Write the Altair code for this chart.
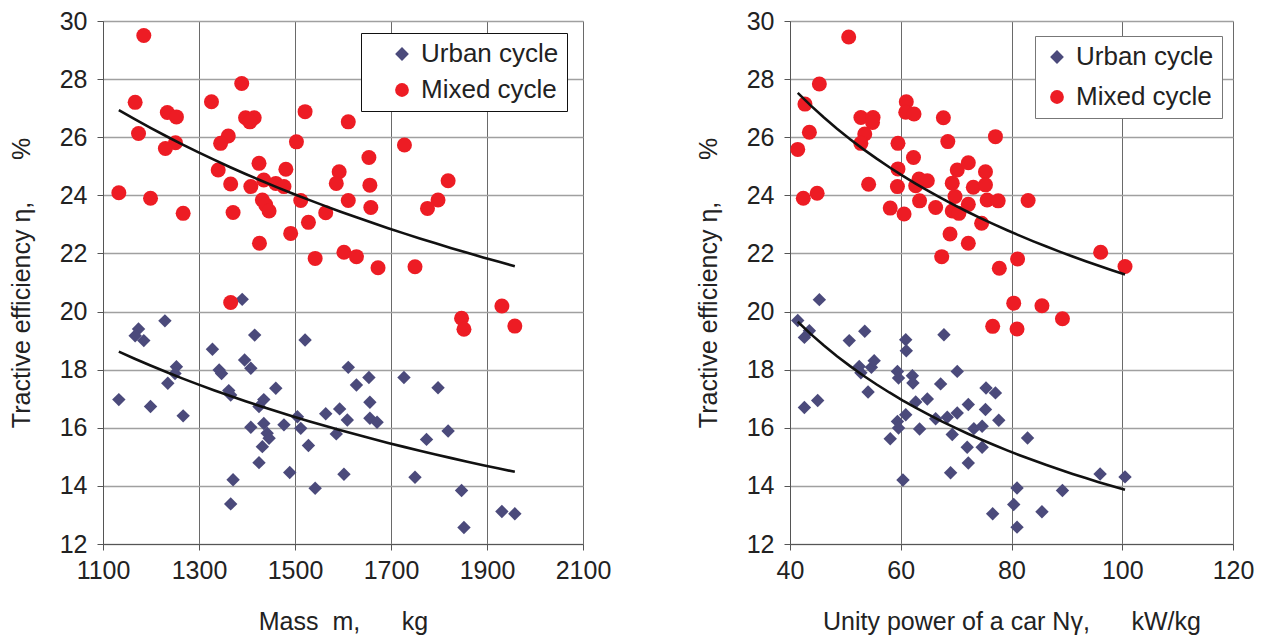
import altair as alt
import pandas as pd

# ---------------- data ----------------
# Left panel: mass m, kg  vs tractive efficiency, %
mass_urban = [1390, 1229, 1174, 1167, 1185, 1416, 1521, 1328, 1395, 1408, 1342, 1347,
              1253, 1250, 1235, 1362, 1366, 1133, 1199, 1267, 1460, 1435, 1425, 1611,
              1628, 1564, 1593, 1609, 1505, 1477, 1512, 1408, 1435, 1442, 1446, 1432,
              1586, 1528, 1425, 1371, 1489, 1602, 1542, 1366, 1654, 1727, 1798, 1656,
              1656, 1671, 1819, 1774, 1750, 1847, 1931, 1958, 1852]
eta_urban_m = [20.42, 19.68, 19.40, 19.17, 19.00, 19.19, 19.02, 18.70, 18.33, 18.05, 17.99, 17.87,
               18.10, 17.87, 17.53, 17.28, 17.13, 16.97, 16.73, 16.41, 17.36, 16.97, 16.73, 18.08,
               17.47, 16.48, 16.65, 16.27, 16.38, 16.10, 15.98, 16.02, 16.15, 15.81, 15.64, 15.35,
               15.79, 15.39, 14.80, 14.21, 14.46, 14.40, 13.92, 13.38, 17.73, 17.73, 17.38, 16.88,
               16.33, 16.19, 15.89, 15.60, 14.30, 13.84, 13.12, 13.04, 12.57]

mass_mixed = [1185, 1167, 1234, 1253, 1174, 1326, 1389, 1397, 1415, 1406, 1361, 1345,
              1251, 1230, 1521, 1611, 1503, 1425, 1340, 1481, 1366, 1408, 1435, 1460,
              1477, 1592, 1586, 1133, 1199, 1267, 1371, 1432, 1439, 1446, 1512, 1564,
              1611, 1528, 1491, 1426, 1542, 1602, 1628, 1728, 1654, 1656, 1658, 1819,
              1798, 1776, 1673, 1750, 1931, 1847, 1852, 1958, 1366]
eta_mixed_m = [29.50, 27.20, 26.85, 26.70, 26.13, 27.22, 27.85, 26.67, 26.67, 26.53, 26.04, 25.79,
               25.81, 25.61, 26.88, 26.53, 25.84, 25.10, 24.87, 24.90, 24.39, 24.30, 24.53, 24.41,
               24.30, 24.81, 24.41, 24.09, 23.90, 23.38, 23.41, 23.84, 23.67, 23.46, 23.82, 23.40,
               23.82, 23.07, 22.69, 22.35, 21.83, 22.04, 21.89, 25.73, 25.30, 24.35, 23.58, 24.50,
               23.84, 23.55, 21.51, 21.54, 20.19, 19.77, 19.39, 19.50, 20.31]

# Right panel: unity power N, kW/kg vs tractive efficiency, %
power_urban = [45.3, 41.4, 43.5, 42.6, 42.6, 45.0, 50.7, 53.5, 52.5, 52.8, 54.7, 55.2,
               54.1, 60.9, 61.0, 59.4, 59.6, 62.1, 62.2, 67.8, 67.2, 70.2, 64.8, 62.7,
               60.9, 59.4, 59.6, 58.1, 63.4, 66.3, 68.4, 70.2, 69.3, 72.2, 72.0, 72.2,
               69.0, 73.2, 74.7, 74.7, 75.3, 75.4, 77.1, 77.7, 60.4, 76.6, 82.9, 96.0,
               100.5, 81.0, 89.2, 80.4, 85.5, 81.0]
eta_urban_p = [20.41, 19.69, 19.34, 19.11, 16.70, 16.94, 19.00, 19.32, 18.11, 17.89, 18.08, 18.31,
               17.23, 19.03, 18.65, 17.94, 17.71, 17.79, 17.54, 19.20, 17.51, 17.94, 16.99, 16.89,
               16.45, 16.22, 15.99, 15.62, 15.96, 16.31, 16.36, 16.51, 15.77, 16.80, 15.33, 14.79,
               14.45, 15.97, 16.05, 15.33, 16.63, 17.37, 17.20, 16.26, 14.20, 13.04, 15.65, 14.41,
               14.31, 13.93, 13.84, 13.36, 13.11, 12.58]

power_mixed = [50.6, 45.3, 42.7, 43.5, 41.4, 42.4, 44.9, 52.8, 55.0, 54.9, 53.5, 52.8,
               54.2, 61.0, 60.9, 62.4, 67.7, 59.5, 68.5, 62.3, 59.5, 59.4, 63.3, 64.8,
               62.7, 63.4, 58.1, 60.6, 66.3, 70.2, 72.2, 69.3, 75.3, 73.1, 75.3, 69.8,
               69.3, 70.5, 72.2, 75.6, 77.6, 74.6, 68.9, 72.2, 67.4, 77.8, 77.1, 83.0,
               81.1, 96.1, 100.5, 76.6, 80.4, 85.5, 89.2, 81.0]
eta_mixed_p = [29.45, 27.83, 27.14, 26.17, 25.58, 23.90, 24.07, 26.68, 26.68, 26.51, 26.11, 25.79,
               24.38, 27.22, 26.86, 26.80, 26.67, 25.79, 25.85, 25.30, 24.91, 24.30, 24.56, 24.50,
               24.33, 23.81, 23.56, 23.36, 23.58, 24.87, 25.12, 24.42, 24.81, 24.28, 24.36, 23.96,
               23.46, 23.38, 23.69, 23.84, 23.81, 23.04, 22.67, 22.35, 21.89, 21.49, 26.02, 23.82,
               21.81, 22.04, 21.55, 19.49, 20.29, 20.20, 19.75, 19.40]

series_names = ["Urban cycle", "Mixed cycle"]
series_colors = ["#4B4A7B", "#ED1C24"]
series_shapes = ["diamond", "circle"]
y_ticks = [12, 14, 16, 18, 20, 22, 24, 26, 28, 30]
x_ticks_left = [1100, 1300, 1500, 1700, 1900, 2100]
x_ticks_right = [40, 60, 80, 100, 120]

FONT = "Liberation Sans, Arial, sans-serif"
NB = "\u00a0"


def make_df(xu, yu, xm, ym):
    return pd.DataFrame({
        "x": list(xu) + list(xm),
        "y": list(yu) + list(ym),
        "series": [series_names[0]] * len(xu) + [series_names[1]] * len(xm),
    })


def panel(df, xdom, xvals, xtitle, legend_x, legend_y, row_pad, sym_off, trail,
          plot_w, legend_stroke):
    xenc = alt.X("x:Q", scale=alt.Scale(domain=xdom, nice=False, zero=False),
                 axis=alt.Axis(values=xvals, format="d", title=xtitle, labelFlush=False,
                               labelFontSize=25, titleFontSize=25,
                               tickSize=6, labelPadding=8, titlePadding=26,
                               grid=True, gridColor="#6a6a6a", gridWidth=1,
                               domainColor="#555555", tickColor="#555555",
                               labelColor="#222222", titleColor="#222222",
                               titleFontWeight="normal", labelFont=FONT, titleFont=FONT))
    yenc = alt.Y("y:Q", scale=alt.Scale(domain=[12, 30], nice=False, zero=False),
                 axis=alt.Axis(values=y_ticks,
                               title="Tractive efficiency η," + NB * 6 + "%",
                               labelFontSize=25, titleFontSize=25,
                               tickSize=6, labelPadding=10, titlePadding=25,
                               grid=True, gridColor="#a0a0a0", gridWidth=1.5,
                               domainColor="#555555", tickColor="#555555",
                               labelColor="#222222", titleColor="#222222",
                               titleFontWeight="normal", labelFont=FONT, titleFont=FONT))
    color = alt.Color("series:N",
                      scale=alt.Scale(domain=series_names, range=series_colors),
                      legend=alt.Legend(title=None, orient="none", legendX=legend_x, legendY=legend_y,
                                        labelFontSize=26, labelFont=FONT, labelColor="#222222",
                                        labelLimit=400,
                                        symbolSize=190, padding=8, rowPadding=row_pad,
                                        symbolOffset=sym_off, labelOffset=6,
                                        strokeColor=legend_stroke, fillColor="white",
                                        labelExpr="datum.label + '" + NB * trail + "'"))
    shape = alt.Shape("series:N", scale=alt.Scale(domain=series_names, range=series_shapes),
                      legend=alt.Legend(title=None))
    base = alt.Chart(df)
    urban = base.transform_filter(alt.datum.series == series_names[0]).mark_point(
        filled=True, opacity=1, size=180, strokeWidth=0).encode(x=xenc, y=yenc, color=color, shape=shape)
    mixed = base.transform_filter(alt.datum.series == series_names[1]).mark_point(
        filled=True, opacity=1, size=225, strokeWidth=0).encode(x=xenc, y=yenc, color=color, shape=shape)
    trend = base.transform_regression("x", "y", method="pow", groupby=["series"]).mark_line(
        color="#111111", strokeWidth=2.6).encode(x="x:Q", y="y:Q", detail="series:N")
    return alt.layer(urban, mixed, trend).properties(width=plot_w, height=523)


left = panel(make_df(mass_urban, eta_urban_m, mass_mixed, eta_mixed_m),
             [1100, 2100], x_ticks_left, "Mass" + NB * 2 + "m," + NB * 6 + "kg",
             258, 12, 10, 20, 8, 480, "#111111")
right = panel(make_df(power_urban, eta_urban_p, power_mixed, eta_mixed_p),
              [40, 120], x_ticks_right, "Unity power of a car Nγ," + NB * 6 + "kW/kg",
              245, 15, 14, 1, 3, 443, "#777777")

chart = alt.hconcat(left, right, spacing=83).resolve_scale(
    color="independent", shape="independent"
).resolve_legend(color="independent", shape="independent").properties(
    padding={"left": 0, "top": 0, "right": 0, "bottom": 0}
).configure_view(stroke="#a8a8a8", strokeWidth=2).configure(font=FONT)

chart.save("out.html", embed_options={"renderer": "svg", "actions": False})
